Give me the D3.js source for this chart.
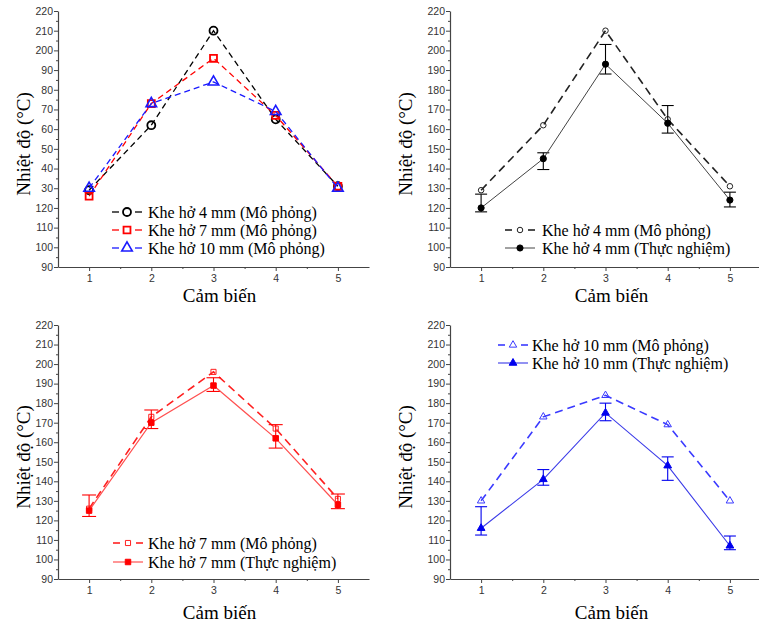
<!DOCTYPE html>
<html><head><meta charset="utf-8">
<script src="https://cdn.jsdelivr.net/npm/d3@7"></script>
<style>body{margin:0;background:#fff}svg{display:block}
.serif{font-family:"Liberation Serif","Times New Roman","DejaVu Serif",serif}
.sans{font-family:"Liberation Sans",Arial,sans-serif}</style>
</head><body>
<script>
const sensors = [1, 2, 3, 4, 5];
const sim4 = [129, 162, 210, 165, 131];
const sim7 = [126, 173, 196, 167, 131];
const sim10 = [130, 173, 184, 169, 130];
const exp4 = [120, 145, 193, 163, 124];
const exp4Low = [118, 139.5, 188, 158, 120.5];
const exp4High = [127, 148, 203, 172, 128];
const exp7 = [125, 170, 189, 162, 128];
const exp7Low = [122, 167, 186, 157, 126];
const exp7High = [133, 176.5, 193, 169, 133.5];
const exp10 = [116, 141, 175, 148, 107];
const exp10Low = [112.5, 138, 171, 140.5, 105];
const exp10High = [127, 146, 180, 152.5, 112];
const yTicks = [90, 100, 110, 120, 130, 140, 150, 160, 170, 180, 190, 200, 210, 220];
const yTickLabels = ["90", "100", "110", "120", "130", "140", "150", "160", "170", "180", "190", "200", "210", "220"];
const yTickLabelsPanel1 = ["90", "100", "110", "120", "30", "40", "50", "60", "70", "80", "90", "200", "210", "220"];
const xLabel = "Cảm biến";
const yLabel = "Nhiệt độ (°C)";
const legend1 = ["Khe hở 4 mm (Mô phỏng)", "Khe hở 7 mm (Mô phỏng)", "Khe hở 10 mm (Mô phỏng)"];
const legend2 = ["Khe hở 4 mm (Mô phỏng)", "Khe hở 4 mm (Thực nghiệm)"];
const legend3 = ["Khe hở 7 mm (Mô phỏng)", "Khe hở 7 mm (Thực nghiệm)"];
const legend4 = ["Khe hở 10 mm (Mô phỏng)", "Khe hở 10 mm (Thực nghiệm)"];

const svg = d3.select("body").append("svg").attr("width", 759).attr("height", 624);

function symbolPath(type, size) {
  const t = type === "circle" ? d3.symbolCircle : type === "square" ? d3.symbolSquare : d3.symbolTriangle;
  return d3.symbol().type(t).size(size)();
}

function panel(cfg) {
  const x = d3.scaleLinear().domain([0.5, 5.5]).range([cfg.left, cfg.right]);
  const y = d3.scaleLinear().domain([90, 220]).range([cfg.bottom, cfg.top]);
  const g = svg.append("g");
  const ya = d3.axisLeft(y).tickValues(yTicks).tickSize(4).tickSizeOuter(0)
    .tickFormat((d, i) => cfg.yLabels[i]);
  const yg = g.append("g").attr("transform", `translate(${cfg.left},0)`).call(ya);
  const yMinor = d3.axisLeft(y).tickValues(d3.range(95, 220, 10)).tickSize(2).tickFormat("");
  g.append("g").attr("transform", `translate(${cfg.left},0)`).call(yMinor).select(".domain").remove();
  const xa = d3.axisBottom(x).tickValues(sensors).tickSize(4).tickSizeOuter(0).tickFormat(d3.format("d"));
  const xg = g.append("g").attr("transform", `translate(0,${cfg.bottom})`).call(xa);
  const xMinor = d3.axisBottom(x).tickValues([1.5, 2.5, 3.5, 4.5]).tickSize(2).tickFormat("");
  g.append("g").attr("transform", `translate(0,${cfg.bottom})`).call(xMinor).select(".domain").remove();
  g.selectAll("g").attr("font-family", null);
  g.selectAll(".domain").attr("stroke", "#444").attr("stroke-width", 1.2);
  g.selectAll(".tick line").attr("stroke", "#444");
  g.selectAll(".tick text").attr("class", "sans").attr("font-size", 10.5).attr("fill", "#333");
  yg.selectAll(".tick text").attr("x", -5);
  xg.selectAll(".tick text").attr("y", 8);
  g.append("text").attr("class", "serif")
    .attr("transform", `translate(${cfg.ylx},${(cfg.top + cfg.bottom) / 2 + 5}) rotate(-90)`)
    .attr("text-anchor", "middle").attr("dominant-baseline", "middle")
    .attr("font-size", 19).text(yLabel);
  g.append("text").attr("class", "serif").attr("x", x(3) + 6).attr("y", cfg.xly).attr("text-anchor", "middle")
    .attr("font-size", 19).text(xLabel);

  const line = d3.line().x((d, i) => x(sensors[i])).y(d => y(d));
  cfg.series.forEach(s => {
    if (s.low) {
      sensors.forEach((sv, i) => {
        const cx = x(sv);
        g.append("line").attr("x1", cx).attr("x2", cx).attr("y1", y(s.low[i])).attr("y2", y(s.high[i]))
          .attr("stroke", s.color).attr("stroke-width", 1.1);
        [s.low[i], s.high[i]].forEach(v => g.append("line").attr("x1", cx - s.cap).attr("x2", cx + s.cap)
          .attr("y1", y(v)).attr("y2", y(v)).attr("stroke", s.color).attr("stroke-width", 1.1));
      });
    }
    g.append("path").datum(s.values).attr("d", line).attr("fill", "none")
      .attr("stroke", s.lineColor || s.color).attr("stroke-width", s.lw)
      .attr("stroke-dasharray", s.dash || null);
    g.selectAll(null).data(s.values).enter().append("path")
      .attr("d", symbolPath(s.symbol, s.size))
      .attr("transform", (d, i) => `translate(${x(sensors[i])},${y(d)})`)
      .attr("fill", s.filled ? s.color : "none").attr("stroke", s.color).attr("stroke-width", s.mw);
  });
  cfg.series.forEach((s, k) => {
    const ly = cfg.legY + k * cfg.legDy;
    const lx = cfg.legX;
    if (s.dash) {
      g.append("line").attr("x1", lx).attr("x2", lx + 7).attr("y1", ly).attr("y2", ly)
        .attr("stroke", s.lineColor || s.color).attr("stroke-width", s.lw);
      g.append("line").attr("x1", lx + 23).attr("x2", lx + 30).attr("y1", ly).attr("y2", ly)
        .attr("stroke", s.lineColor || s.color).attr("stroke-width", s.lw);
    } else {
      g.append("line").attr("x1", lx).attr("x2", lx + 30).attr("y1", ly).attr("y2", ly)
        .attr("stroke", s.lineColor || s.color).attr("stroke-width", s.lw);
    }
    g.append("path").attr("d", symbolPath(s.symbol, s.size))
      .attr("transform", `translate(${lx + 15},${ly})`)
      .attr("fill", s.filled ? s.color : "none").attr("stroke", s.color).attr("stroke-width", s.mw);
    g.append("text").attr("class", "serif").attr("x", lx + cfg.textOff).attr("y", ly + 5.5)
      .attr("font-size", 16).attr("fill", "#000").text(cfg.legend[k]);
  });
}

panel({left: 58, right: 369, top: 11, bottom: 267, ylx: 26, xly: 302, yLabels: yTickLabelsPanel1,
  legX: 112, legY: 212, legDy: 18, textOff: 36, legend: legend1,
  series: [
    {values: sim4, color: "#000", symbol: "circle", size: 50, filled: false, lw: 1.3, mw: 1.8, dash: "6,4"},
    {values: sim7, color: "#ff0000", symbol: "square", size: 48, filled: false, lw: 1.3, mw: 1.8, dash: "6,4"},
    {values: sim10, color: "#1a1aff", symbol: "triangle", size: 48, filled: false, lw: 1.3, mw: 1.6, dash: "6,4"}
  ]});

panel({left: 450, right: 761, top: 11, bottom: 267, ylx: 408, xly: 302, yLabels: yTickLabels,
  legX: 505, legY: 230, legDy: 18, textOff: 37, legend: legend2,
  series: [
    {values: sim4, color: "#222", symbol: "circle", size: 24, filled: false, lw: 1.6, mw: 1, dash: "8,5"},
    {values: exp4, low: exp4Low, high: exp4High, cap: 6, color: "#000", lineColor: "#444", symbol: "circle", size: 30, filled: true, lw: 1, mw: 1}
  ]});

panel({left: 58, right: 369, top: 325, bottom: 579, ylx: 26, xly: 619, yLabels: yTickLabels,
  legX: 113, legY: 543, legDy: 19, textOff: 35, legend: legend3,
  series: [
    {values: sim7, color: "#ff2020", symbol: "square", size: 26, filled: false, lw: 1.6, mw: 1, dash: "8,5"},
    {values: exp7, low: exp7Low, high: exp7High, cap: 7, color: "#ff0000", lineColor: "#ff5050", symbol: "square", size: 30, filled: true, lw: 1.2, mw: 1}
  ]});

panel({left: 450, right: 761, top: 325, bottom: 579, ylx: 408, xly: 619, yLabels: yTickLabels,
  legX: 498, legY: 345, legDy: 18, textOff: 34, legend: legend4,
  series: [
    {values: sim10, color: "#3a3aff", symbol: "triangle", size: 24, filled: false, lw: 1.6, mw: 1, dash: "8,5"},
    {values: exp10, low: exp10Low, high: exp10High, cap: 6, color: "#0000ee", lineColor: "#3a3ae8", symbol: "triangle", size: 26, filled: true, lw: 1.1, mw: 1}
  ]});
</script>
</body></html>
